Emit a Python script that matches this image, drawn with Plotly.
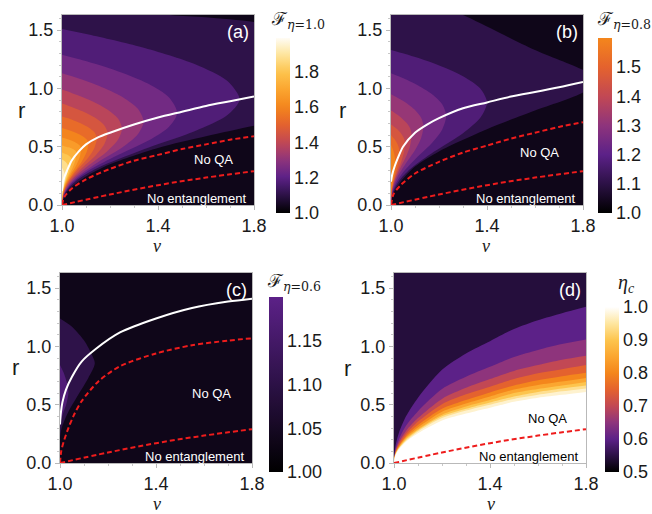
import plotly.graph_objects as go
from plotly.colors import sample_colorscale

# ---------------- colour function (Sunset-like) ----------------
SUNSET = [[0.0, 'rgb(0,0,0)'], [0.1, 'rgb(44,17,70)'], [0.2, 'rgb(92,33,136)'],
          [0.3, 'rgb(142,52,124)'], [0.4, 'rgb(194,72,84)'], [0.5, 'rgb(228,98,46)'],
          [0.6, 'rgb(244,134,28)'], [0.7, 'rgb(251,166,48)'], [0.8, 'rgb(253,197,78)'],
          [0.9, 'rgb(254,230,160)'], [1.0, 'rgb(255,255,255)']]

# ---------------- panel (a): F_eta=1.0 level curves ----------------
A_LEVELS = [1.07, 1.14, 1.21, 1.28, 1.35, 1.42, 1.49, 1.56, 1.63, 1.70, 1.77, 1.84, 1.91]
A_NU = [
    [1.0, 1.01, 1.04, 1.1, 1.2, 1.4, 1.6, 1.8, 2.0, 2.2, 2.3, 2.2, 2.0, 1.8, 1.6, 1.45, 1.2, 1.0],
    [1.0, 1.0148, 1.059, 1.148, 1.333, 1.555, 1.688, 1.74, 1.688, 1.555, 1.333, 1.111, 1.0],
    [1.0, 1.0096, 1.038, 1.096, 1.216, 1.36, 1.446, 1.48, 1.446, 1.36, 1.216, 1.072, 1.0],
    [1.0, 1.0068, 1.027, 1.068, 1.153, 1.255, 1.316, 1.34, 1.316, 1.255, 1.153, 1.051, 1.0],
    [1.0, 1.005, 1.02, 1.05, 1.1125, 1.1875, 1.2325, 1.25, 1.2325, 1.1875, 1.1125, 1.0375, 1.0],
    [1.0, 1.0038, 1.0152, 1.038, 1.0855, 1.1425, 1.1767, 1.19, 1.1767, 1.1425, 1.0855, 1.0285, 1.0],
    [1.0, 1.0029, 1.0116, 1.029, 1.065, 1.109, 1.135, 1.145, 1.135, 1.109, 1.065, 1.022, 1.0],
    [1.0, 1.0022, 1.0088, 1.022, 1.0495, 1.0825, 1.1023, 1.11, 1.1023, 1.0825, 1.0495, 1.0165, 1.0],
    [1.0, 1.0016, 1.0064, 1.016, 1.036, 1.06, 1.0744, 1.08, 1.0744, 1.06, 1.036, 1.012, 1.0],
    [1.0, 1.0012, 1.0048, 1.012, 1.027, 1.045, 1.0558, 1.06, 1.0558, 1.045, 1.027, 1.009, 1.0],
    [1.0, 1.0008, 1.0032, 1.008, 1.018, 1.03, 1.0372, 1.04, 1.0372, 1.03, 1.018, 1.006, 1.0],
    [1.0, 1.0005, 1.002, 1.005, 1.01125, 1.01875, 1.02325, 1.025, 1.02325, 1.01875, 1.01125, 1.00375, 1.0],
    [1.0, 1.00024, 1.00096, 1.0024, 1.0054, 1.009, 1.01116, 1.012, 1.01116, 1.009, 1.0054, 1.0018, 1.0],
]
A_R = [
    [0.0, 0.08, 0.155, 0.245, 0.35, 0.49, 0.59, 0.68, 0.76, 0.9, 1.1, 1.35, 1.5, 1.57, 1.61, 1.63, 1.7, 1.78],
    [0.0, 0.109, 0.208, 0.317, 0.471, 0.634, 0.769, 0.905, 1.065, 1.208, 1.354, 1.463, 1.51],
    [0.0, 0.095, 0.182, 0.277, 0.411, 0.553, 0.672, 0.79, 0.923, 1.04, 1.161, 1.251, 1.29],
    [0.0, 0.086, 0.164, 0.25, 0.372, 0.50, 0.608, 0.715, 0.825, 0.923, 1.023, 1.098, 1.13],
    [0.005, 0.083, 0.155, 0.233, 0.343, 0.46, 0.558, 0.655, 0.744, 0.8225, 0.904, 0.964, 0.99],
    [0.005, 0.078, 0.145, 0.219, 0.322, 0.432, 0.524, 0.615, 0.683, 0.7425, 0.804, 0.85, 0.87],
    [0.01, 0.078, 0.14, 0.208, 0.304, 0.406, 0.49, 0.575, 0.624, 0.6675, 0.712, 0.746, 0.76],
    [0.01, 0.072, 0.13, 0.192, 0.28, 0.374, 0.452, 0.53, 0.564, 0.595, 0.626, 0.65, 0.66],
    [0.015, 0.071, 0.123, 0.18, 0.259, 0.344, 0.415, 0.485, 0.51, 0.5325, 0.555, 0.5725, 0.58],
    [0.02, 0.072, 0.119, 0.171, 0.244, 0.321, 0.386, 0.45, 0.466, 0.48, 0.4945, 0.505, 0.51],
    [0.03, 0.073, 0.113, 0.156, 0.217, 0.282, 0.336, 0.39, 0.406, 0.42, 0.4345, 0.445, 0.45],
    [0.04, 0.075, 0.107, 0.142, 0.191, 0.243, 0.287, 0.33, 0.346, 0.36, 0.3745, 0.385, 0.39],
    [0.06, 0.082, 0.101, 0.123, 0.154, 0.186, 0.213, 0.24, 0.261, 0.28, 0.299, 0.314, 0.32],
]
A_WHITE_NU = [1.0, 1.003, 1.01, 1.02, 1.04, 1.07, 1.1, 1.15, 1.2, 1.3, 1.4, 1.5, 1.6, 1.7, 1.8]
A_WHITE_R = [0.12, 0.19, 0.24, 0.29, 0.38, 0.46, 0.52, 0.58, 0.62, 0.69, 0.75, 0.80, 0.85, 0.89, 0.93]
A_QA_NU = [1.0, 1.01, 1.04, 1.1, 1.2, 1.3, 1.4, 1.5, 1.6, 1.7, 1.8]
A_QA_R = [0.0, 0.07, 0.14, 0.22, 0.31, 0.38, 0.43, 0.48, 0.52, 0.56, 0.59]

# ---------------- panel (b): F_eta=0.8 ----------------
B_LEVELS = [1.07, 1.14, 1.21, 1.28, 1.35, 1.42, 1.49, 1.56]
B_NU = [
    [1.0, 1.01, 1.04, 1.1, 1.2, 1.4, 1.6, 1.8, 1.87, 1.8, 1.6, 1.45, 1.3, 1.15, 1.0],
    [1.0, 1.008, 1.032, 1.08, 1.18, 1.30, 1.372, 1.40, 1.372, 1.30, 1.18, 1.06, 1.0],
    [1.0, 1.0046, 1.0184, 1.046, 1.1035, 1.1725, 1.2139, 1.23, 1.2139, 1.1725, 1.1035, 1.0345, 1.0],
    [1.0, 1.0027, 1.0108, 1.027, 1.061, 1.101, 1.1256, 1.135, 1.1256, 1.101, 1.061, 1.02, 1.0],
    [1.0, 1.0017, 1.0069, 1.0172, 1.0387, 1.0645, 1.08, 1.086, 1.08, 1.0645, 1.0387, 1.0129, 1.0],
    [1.0, 1.0012, 1.0046, 1.0116, 1.0261, 1.0435, 1.0539, 1.058, 1.0539, 1.0435, 1.0261, 1.0087, 1.0],
    [1.0, 1.0007, 1.0028, 1.007, 1.0158, 1.0263, 1.0326, 1.035, 1.0326, 1.0263, 1.0158, 1.0053, 1.0],
    [1.0, 1.00036, 1.00144, 1.0036, 1.0081, 1.0135, 1.0167, 1.018, 1.0167, 1.0135, 1.0081, 1.0027, 1.0],
]
B_R = [
    [0.0, 0.1, 0.2, 0.33, 0.46, 0.65, 0.81, 0.965, 1.08, 1.16, 1.33, 1.48, 1.63, 1.75, 1.85],
    [0.0, 0.106, 0.202, 0.308, 0.458, 0.616, 0.748, 0.88, 0.999, 1.105, 1.214, 1.295, 1.33],
    [0.0, 0.092, 0.176, 0.268, 0.398, 0.536, 0.65, 0.765, 0.862, 0.948, 1.036, 1.102, 1.13],
    [0.005, 0.085, 0.159, 0.24, 0.353, 0.474, 0.575, 0.675, 0.748, 0.8125, 0.879, 0.929, 0.95],
    [0.01, 0.081, 0.146, 0.217, 0.317, 0.423, 0.512, 0.6, 0.656, 0.705, 0.756, 0.794, 0.81],
    [0.015, 0.077, 0.133, 0.195, 0.283, 0.376, 0.453, 0.53, 0.572, 0.61, 0.649, 0.678, 0.69],
    [0.02, 0.072, 0.119, 0.171, 0.244, 0.321, 0.386, 0.45, 0.49, 0.525, 0.561, 0.588, 0.60],
    [0.03, 0.068, 0.104, 0.142, 0.196, 0.254, 0.302, 0.35, 0.395, 0.435, 0.476, 0.507, 0.52],
]
B_WHITE_NU = [1.0, 1.005, 1.015, 1.03, 1.05, 1.1, 1.15, 1.2, 1.3, 1.4, 1.5, 1.6, 1.7, 1.8]
B_WHITE_R = [0.2, 0.26, 0.33, 0.41, 0.5, 0.62, 0.69, 0.745, 0.83, 0.88, 0.93, 0.97, 1.01, 1.055]
B_QA_NU = [1.0, 1.01, 1.04, 1.1, 1.2, 1.3, 1.4, 1.5, 1.6, 1.7, 1.8]
B_QA_R = [0.0, 0.09, 0.17, 0.27, 0.37, 0.45, 0.51, 0.57, 0.62, 0.67, 0.71]

# ---------------- panel (c): F_eta=0.6 ----------------
C_LEVELS = [1.07, 1.14]
C_NU = [
    [1.0, 1.007, 1.035, 1.076, 1.118, 1.145, 1.125, 1.104, 1.049, 1.0],
    [1.0, 1.012, 1.027, 1.035, 1.03, 1.018, 1.0],
]
C_R = [
    [0.22, 0.3, 0.44, 0.585, 0.73, 0.855, 0.96, 1.04, 1.17, 1.24],
    [0.34, 0.42, 0.51, 0.6, 0.68, 0.76, 0.84],
]
C_WHITE_NU = [1.0, 1.003, 1.01, 1.025, 1.05, 1.09, 1.15, 1.25, 1.4, 1.55, 1.7, 1.8]
C_WHITE_R = [0.33, 0.42, 0.52, 0.63, 0.74, 0.87, 0.98, 1.12, 1.24, 1.33, 1.385, 1.41]
C_QA_NU = [1.0, 1.005, 1.015, 1.035, 1.06, 1.09, 1.16, 1.25, 1.4, 1.55, 1.7, 1.8]
C_QA_R = [0.0, 0.1, 0.18, 0.30, 0.42, 0.53, 0.70, 0.83, 0.94, 1.01, 1.05, 1.07]

# ---------------- panel (d): eta_c ----------------
D_LEVELS = [0.55, 0.60, 0.65, 0.70, 0.75, 0.80, 0.85, 0.90, 0.95, 1.00]
D_NU = [1.0, 1.005, 1.02, 1.05, 1.1, 1.2, 1.3, 1.4, 1.5, 1.6, 1.7, 1.8]
D_R = [
    [0, 0.134, 0.255, 0.40, 0.56, 0.80, 0.94, 1.045, 1.15, 1.225, 1.285, 1.34],
    [0, 0.106, 0.20, 0.32, 0.445, 0.635, 0.74, 0.825, 0.91, 0.97, 1.02, 1.06],
    [0, 0.092, 0.175, 0.275, 0.385, 0.55, 0.645, 0.72, 0.79, 0.84, 0.885, 0.92],
    [0, 0.084, 0.16, 0.25, 0.355, 0.505, 0.59, 0.655, 0.72, 0.77, 0.805, 0.84],
    [0, 0.078, 0.147, 0.23, 0.325, 0.465, 0.54, 0.605, 0.665, 0.71, 0.745, 0.775],
    [0, 0.073, 0.139, 0.22, 0.305, 0.44, 0.51, 0.57, 0.63, 0.67, 0.70, 0.73],
    [0, 0.07, 0.132, 0.21, 0.29, 0.415, 0.485, 0.54, 0.60, 0.635, 0.665, 0.695],
    [0, 0.067, 0.126, 0.20, 0.28, 0.40, 0.465, 0.52, 0.57, 0.61, 0.64, 0.665],
    [0, 0.064, 0.122, 0.19, 0.27, 0.385, 0.45, 0.50, 0.55, 0.585, 0.615, 0.64],
    [0, 0.061, 0.116, 0.183, 0.255, 0.365, 0.425, 0.475, 0.525, 0.56, 0.585, 0.61],
]

# entanglement boundary (same in all panels)
ENT_NU = [1.0, 1.2, 1.4, 1.6, 1.8]
ENT_R = [0.0, 0.09, 0.17, 0.235, 0.29]

X_TICKS = [1.0, 1.4, 1.8]
Y_TICKS = [0.0, 0.5, 1.0, 1.5]

FONT = 'Liberation Sans, Arial, sans-serif'
SERIF = 'Liberation Serif, DejaVu Serif, serif'


def col(t):
    return sample_colorscale(SUNSET, [max(0.0, min(1.0, t))])[0]


fig = go.Figure()

panels = [
    ('a', 'x', 'y', (62, 254), (15, 205)),
    ('b', 'x2', 'y2', (391, 583), (15, 205)),
    ('c', 'x3', 'y3', (60, 252), (273, 463)),
    ('d', 'x4', 'y4', (394, 586), (273, 463)),
]
W, H = 652, 514

BASE = col(0.035)

# --- contour bands ---
for levels, nus, rs, xa, ya in [(A_LEVELS, A_NU, A_R, 'x', 'y'),
                                (B_LEVELS, B_NU, B_R, 'x2', 'y2'),
                                (C_LEVELS, C_NU, C_R, 'x3', 'y3')]:
    for lev, nu, r in zip(levels, nus, rs):
        fig.add_trace(go.Scatter(x=nu, y=r, mode='lines', fill='toself',
                                 fillcolor=col(lev - 1.0 + 0.035),
                                 line=dict(width=0, shape='spline', smoothing=0.8),
                                 hoverinfo='skip', showlegend=False,
                                 xaxis=xa, yaxis=ya))

D_T = [0.2, 0.3, 0.4, 0.5, 0.6, 0.7, 0.8, 0.88, 0.95, 1.0]
for lev, r, t in zip(D_LEVELS, D_R, D_T):
    fig.add_trace(go.Scatter(x=D_NU, y=r, mode='lines', fill='tozeroy',
                             fillcolor=col(t),
                             line=dict(width=0, shape='spline', smoothing=0.8),
                             hoverinfo='skip', showlegend=False,
                             xaxis='x4', yaxis='y4'))

# --- lines ---
for wn, wr, xa, ya in [(A_WHITE_NU, A_WHITE_R, 'x', 'y'), (B_WHITE_NU, B_WHITE_R, 'x2', 'y2'),
                       (C_WHITE_NU, C_WHITE_R, 'x3', 'y3')]:
    fig.add_trace(go.Scatter(x=wn, y=wr, mode='lines',
                             line=dict(color='white', width=2, shape='spline', smoothing=0.8),
                             hoverinfo='skip', showlegend=False, xaxis=xa, yaxis=ya))
for qn, qr, xa, ya in [(A_QA_NU, A_QA_R, 'x', 'y'), (B_QA_NU, B_QA_R, 'x2', 'y2'),
                       (C_QA_NU, C_QA_R, 'x3', 'y3')]:
    fig.add_trace(go.Scatter(x=qn, y=qr, mode='lines',
                             line=dict(color='#ee1c1c', width=2, dash='5px,3px', shape='spline', smoothing=0.8),
                             hoverinfo='skip', showlegend=False, xaxis=xa, yaxis=ya))
for xa, ya in [('x', 'y'), ('x2', 'y2'), ('x3', 'y3'), ('x4', 'y4')]:
    fig.add_trace(go.Scatter(x=ENT_NU, y=ENT_R, mode='lines',
                             line=dict(color='#ee1c1c', width=2, dash='5px,3px', shape='spline'),
                             hoverinfo='skip', showlegend=False, xaxis=xa, yaxis=ya))

# --- colour bars ---
def trunc_scale(top):
    n = 24
    pts = [top * i / n for i in range(n + 1)]
    cols = sample_colorscale(SUNSET, pts)
    return [[i / n, c] for i, c in enumerate(cols)]

cbars = [
    ('x', 'y', 1.0, 1.99, trunc_scale(0.99), 276, 38, 213, [1.0, 1.2, 1.4, 1.6, 1.8], '{:.1f}'),
    ('x2', 'y2', 1.0, 1.6, trunc_scale(0.6), 598, 38, 213, [1.0, 1.1, 1.2, 1.3, 1.4, 1.5], '{:.1f}'),
    ('x3', 'y3', 1.0, 1.2, trunc_scale(0.2), 269, 297, 472, [1.0, 1.05, 1.10, 1.15], '{:.2f}'),
    ('x4', 'y4', 0.5, 1.0, SUNSET, 605, 307, 472, [0.5, 0.6, 0.7, 0.8, 0.9, 1.0], '{:.1f}'),
]
for xa, ya, cmin, cmax, cs, xpx, ytop, ybot, tv, fmt in cbars:
    fig.add_trace(go.Scatter(
        x=[0.0, 0.0], y=[-5, -5], mode='markers', xaxis=xa, yaxis=ya,
        hoverinfo='skip', showlegend=False,
        marker=dict(size=1, color=[cmin, cmax], cmin=cmin, cmax=cmax, colorscale=cs,
                    showscale=True,
                    colorbar=dict(x=xpx / W, xanchor='left', y=1 - ybot / H, yanchor='bottom',
                                  len=(ybot - ytop) / H, lenmode='fraction',
                                  thickness=14, thicknessmode='pixels', outlinewidth=0,
                                  xpad=0, ypad=0, tickmode='array', tickvals=tv,
                                  ticktext=[fmt.format(v) for v in tv], ticks='',
                                  tickfont=dict(family=FONT, size=18, color='#1a1a1a')))))

# --- axes ---
layout = dict(width=W, height=H, margin=dict(l=0, r=0, t=0, b=0, autoexpand=False),
              paper_bgcolor='white', plot_bgcolor=BASE, showlegend=False)
axstyle = dict(showline=True, mirror=True, linecolor='#b9b9b9', linewidth=1,
               ticks='outside', ticklen=4, tickcolor='#b9b9b9', showgrid=False,
               zeroline=False, automargin=False,
               tickfont=dict(family=FONT, size=18, color='#1a1a1a'))
for i, (name, xa, ya, (x0, x1), (y0, y1)) in enumerate(panels):
    xk = 'xaxis' if i == 0 else f'xaxis{i + 1}'
    yk = 'yaxis' if i == 0 else f'yaxis{i + 1}'
    layout[xk] = dict(axstyle, domain=[x0 / W, x1 / W], anchor=ya, range=[1.0, 1.8],
                      tickmode='array', tickvals=X_TICKS, ticktext=['%.1f' % v for v in X_TICKS],
                      minor=dict(ticks='outside', ticklen=2, tickcolor='#c8c8c8',
                                 tickvals=[1.1, 1.2, 1.3, 1.5, 1.6, 1.7]))
    layout[yk] = dict(axstyle, domain=[1 - y1 / H, 1 - y0 / H], anchor=xa, range=[0.0, 1.63],
                      tickmode='array', tickvals=Y_TICKS, ticktext=['%.1f' % v for v in Y_TICKS],
                      minor=dict(ticks='outside', ticklen=2, tickcolor='#c8c8c8',
                                 tickvals=[0.1, 0.2, 0.3, 0.4, 0.6, 0.7, 0.8, 0.9, 1.1, 1.2, 1.3, 1.4, 1.6]))
fig.update_layout(**layout)

fig.add_shape(type='rect', xref='x4 domain', yref='y4 domain', x0=0, x1=1, y0=0, y1=1,
              fillcolor=col(0.085), line=dict(width=0), layer='below')

ann = []
for lab, xa, ya in [('(a)', 'x', 'y'), ('(b)', 'x2', 'y2'), ('(c)', 'x3', 'y3'), ('(d)', 'x4', 'y4')]:
    ann.append(dict(text=lab, x=1.735, y=1.48, xref=xa, yref=ya, showarrow=False,
                    xanchor='center', yanchor='middle',
                    font=dict(family=FONT, size=18, color='white')))
qa_pos = {'x': (1.63, 0.39), 'x2': (1.62, 0.45), 'x3': (1.63, 0.60), 'x4': (1.64, 0.38)}
for xa, ya, tc in [('x', 'y', 'white'), ('x2', 'y2', 'white'), ('x3', 'y3', 'white'), ('x4', 'y4', 'black')]:
    qx, qy = qa_pos[xa]
    ann.append(dict(text='No QA', x=qx, y=qy, xref=xa, yref=ya, showarrow=False,
                    xanchor='center', yanchor='middle',
                    font=dict(family=FONT, size=13, color=tc)))
    ann.append(dict(text='No entanglement', x=1.56, y=0.06, xref=xa, yref=ya, showarrow=False,
                    xanchor='center', yanchor='middle',
                    font=dict(family=FONT, size=13, color=tc)))

for (x, y) in [(157, 246), (486, 246), (157, 504), (491, 504)]:
    ann.append(dict(text='<i>ν</i>', x=x / W, y=1 - y / H, xref='paper', yref='paper',
                    xanchor='center', yanchor='middle',
                    showarrow=False, font=dict(family=SERIF, size=18, color='#1a1a1a')))
for (x, y) in [(21, 110), (342, 110), (15, 367), (347, 368)]:
    ann.append(dict(text='r', x=x / W, y=1 - y / H, xref='paper', yref='paper',
                    xanchor='center', yanchor='middle',
                    showarrow=False, font=dict(family=FONT, size=22, color='#1a1a1a')))

for txt, x, y in [('ℱ<sub><i>η</i>=1.0</sub>', 298, 20), ('ℱ<sub><i>η</i>=0.8</sub>', 624, 20),
                  ('ℱ<sub><i>η</i>=0.6</sub>', 294, 282)]:
    ann.append(dict(text=txt, x=x / W, y=1 - y / H, xref='paper', yref='paper', showarrow=False,
                    xanchor='center', yanchor='middle',
                    font=dict(family='DejaVu Serif, serif', size=18, color='#1a1a1a')))
ann.append(dict(text='<i>η<sub>c</sub></i>', x=626 / W, y=1 - 283 / H, xref='paper', yref='paper',
                xanchor='center', yanchor='middle',
                showarrow=False, font=dict(family=SERIF, size=20, color='#1a1a1a')))
fig.update_layout(annotations=ann)

fig.write_html('out.html')
